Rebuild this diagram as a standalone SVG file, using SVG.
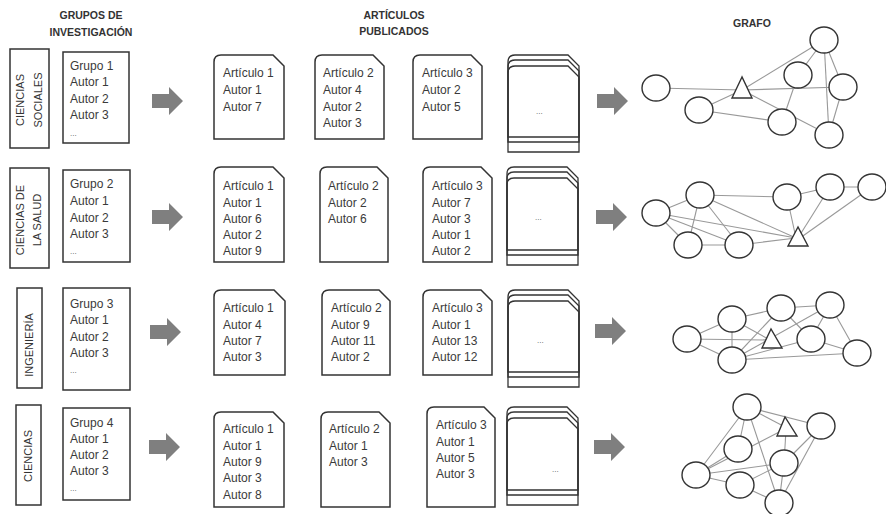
<svg xmlns="http://www.w3.org/2000/svg" xmlns:xlink="http://www.w3.org/1999/xlink" width="886" height="514" viewBox="0 0 886 514">
  <style>
    .hdr { font-family: "Liberation Sans", Arial, sans-serif; font-size: 10.5px; font-weight: bold; fill: #333; text-anchor: middle; }
    .cat { font-family: "Liberation Sans", Arial, sans-serif; font-size: 11px; fill: #333; text-anchor: middle; }
    .t { font-family: "Liberation Sans", Arial, sans-serif; font-size: 12px; fill: #3a3a3a; }
    .dots { font-family: "Liberation Sans", Arial, sans-serif; font-size: 8px; fill: #555; }
    .box { fill: #fff; stroke: #333; stroke-width: 1.5; }
    .doc { fill: #fff; stroke: #333; stroke-width: 1.5; }
    .page { fill: none; stroke: #333; stroke-width: 1.3; }
    .arrow { fill: #7f7f7f; }
    .edge { stroke: #999; stroke-width: 1.1; fill: none; }
    .nd { fill: #fff; stroke: #333; stroke-width: 1.4; }
  </style>
  <defs>
    <path id="blockArrow" d="M0 7 H17 V0 L31 14 L17 28 V21 H0 Z"/>
  </defs>
  <rect width="886" height="514" fill="#fff"/>

  <!-- column headings -->
  <g id="headings">
    <text class="hdr" x="91" y="19">GRUPOS DE</text>
    <text class="hdr" x="91" y="36">INVESTIGACIÓN</text>
    <text class="hdr" x="394" y="19">ARTÍCULOS</text>
    <text class="hdr" x="394" y="35">PUBLICADOS</text>
    <text class="hdr" x="752" y="27">GRAFO</text>
  </g>

  <!-- big process arrows and graph edges -->
  <g id="connectors">
    <use xlink:href="#blockArrow" class="arrow" x="152" y="87"/>
    <use xlink:href="#blockArrow" class="arrow" x="597" y="87"/>
    <use xlink:href="#blockArrow" class="arrow" x="152" y="203"/>
    <use xlink:href="#blockArrow" class="arrow" x="596" y="203"/>
    <use xlink:href="#blockArrow" class="arrow" x="150" y="318"/>
    <use xlink:href="#blockArrow" class="arrow" x="595" y="317"/>
    <use xlink:href="#blockArrow" class="arrow" x="149" y="433"/>
    <use xlink:href="#blockArrow" class="arrow" x="594" y="433"/>

    <!-- graph 1 -->
    <g class="edge">
      <line x1="656" y1="88" x2="742" y2="90"/>
      <line x1="699" y1="110" x2="742" y2="90"/>
      <line x1="699" y1="110" x2="782" y2="122"/>
      <line x1="742" y1="90" x2="824" y2="40"/>
      <line x1="742" y1="90" x2="843" y2="87"/>
      <line x1="742" y1="90" x2="829" y2="135"/>
      <line x1="798" y1="75" x2="824" y2="40"/>
      <line x1="798" y1="75" x2="782" y2="122"/>
      <line x1="824" y1="40" x2="843" y2="87"/>
      <line x1="824" y1="40" x2="829" y2="135"/>
      <line x1="843" y1="87" x2="829" y2="135"/>
    </g>
    <!-- graph 2 -->
    <g class="edge">
      <line x1="656" y1="213" x2="700" y2="195"/>
      <line x1="656" y1="213" x2="688" y2="245"/>
      <line x1="656" y1="213" x2="739" y2="245"/>
      <line x1="656" y1="213" x2="796" y2="238"/>
      <line x1="700" y1="195" x2="688" y2="245"/>
      <line x1="700" y1="195" x2="787" y2="197"/>
      <line x1="700" y1="195" x2="739" y2="245"/>
      <line x1="700" y1="195" x2="796" y2="238"/>
      <line x1="688" y1="245" x2="739" y2="245"/>
      <line x1="739" y1="245" x2="796" y2="238"/>
      <line x1="787" y1="197" x2="796" y2="238"/>
      <line x1="787" y1="197" x2="830" y2="187"/>
      <line x1="830" y1="187" x2="872" y2="187"/>
      <line x1="830" y1="187" x2="798" y2="238"/>
      <line x1="872" y1="187" x2="800" y2="238"/>
    </g>
    <!-- graph 3 -->
    <g class="edge">
      <line x1="687" y1="339" x2="732" y2="319"/>
      <line x1="687" y1="339" x2="732" y2="360"/>
      <line x1="687" y1="339" x2="770" y2="340"/>
      <line x1="732" y1="319" x2="732" y2="360"/>
      <line x1="732" y1="319" x2="781" y2="308"/>
      <line x1="732" y1="319" x2="770" y2="340"/>
      <line x1="732" y1="360" x2="781" y2="308"/>
      <line x1="732" y1="360" x2="830" y2="305"/>
      <line x1="732" y1="360" x2="811" y2="339"/>
      <line x1="732" y1="360" x2="857" y2="353"/>
      <line x1="781" y1="308" x2="830" y2="305"/>
      <line x1="781" y1="308" x2="811" y2="339"/>
      <line x1="830" y1="305" x2="811" y2="339"/>
      <line x1="830" y1="305" x2="857" y2="353"/>
      <line x1="811" y1="339" x2="857" y2="353"/>
    </g>
    <!-- graph 4 -->
    <g class="edge">
      <line x1="747" y1="407" x2="696" y2="475"/>
      <line x1="747" y1="407" x2="738" y2="449"/>
      <line x1="747" y1="407" x2="787" y2="428"/>
      <line x1="747" y1="407" x2="821" y2="426"/>
      <line x1="747" y1="407" x2="779" y2="503"/>
      <line x1="696" y1="475" x2="738" y2="449"/>
      <line x1="696" y1="475" x2="787" y2="428"/>
      <line x1="696" y1="475" x2="740" y2="485"/>
      <line x1="696" y1="475" x2="784" y2="463"/>
      <line x1="740" y1="485" x2="784" y2="463"/>
      <line x1="740" y1="485" x2="779" y2="503"/>
      <line x1="784" y1="463" x2="786" y2="430"/>
      <line x1="784" y1="463" x2="821" y2="426"/>
      <line x1="784" y1="463" x2="779" y2="503"/>
      <line x1="779" y1="503" x2="821" y2="426"/>
    </g>
  </g>

  <!-- ===== row 1 ===== -->
  <g id="cat-sociales">
    <rect class="box" x="10" y="49" width="39" height="99"/>
    <text class="cat" transform="translate(24,100) rotate(-90)">CIENCIAS</text>
    <text class="cat" transform="translate(42,100) rotate(-90)">SOCIALES</text>
  </g>
  <g id="grupo-1">
    <rect class="box" x="63" y="52" width="66" height="91"/>
    <text class="t" x="70" y="69.5">Grupo 1</text>
    <text class="t" x="70" y="86">Autor 1</text>
    <text class="t" x="70" y="102.5">Autor 2</text>
    <text class="t" x="70" y="118.5">Autor 3</text>
    <text class="dots" x="70" y="136">...</text>
  </g>
  <g id="r1-art1">
    <path class="doc" d="M214 139 V62 Q214 55 221 55 H273 L284 66 V139 Z"/>
    <text class="t" x="223" y="77">Artículo 1</text>
    <text class="t" x="223" y="94">Autor 1</text>
    <text class="t" x="223" y="110.5">Autor 7</text>
  </g>
  <g id="r1-art2">
    <path class="doc" d="M315 139 V62 Q315 55 322 55 H373 L384 66 V139 Z"/>
    <text class="t" x="323" y="77">Artículo 2</text>
    <text class="t" x="323" y="94">Autor 4</text>
    <text class="t" x="323" y="110.5">Autor 2</text>
    <text class="t" x="323" y="126.5">Autor 3</text>
  </g>
  <g id="r1-art3">
    <path class="doc" d="M413 139 V62 Q413 55 420 55 H471 L482 66 V139 Z"/>
    <text class="t" x="422" y="77">Artículo 3</text>
    <text class="t" x="422" y="94">Autor 2</text>
    <text class="t" x="422" y="110.5">Autor 5</text>
  </g>
  <g id="r1-more">
    <path class="page" d="M508 137 V62 Q508 55 515 55 H568 L579 66 V137 Z"/>
    <path class="page" d="M508 142 V67 Q508 60 515 60 H568 L579 71 V142 Z"/>
    <path class="page" d="M508 152 V73 Q508 66 515 66 H568 L579 77 V152 Z"/>
    <text class="dots" x="536" y="114">...</text>
  </g>
  <g id="r1-graph">
    <ellipse id="g1-a" class="nd" cx="656" cy="88" rx="14" ry="13"/>
    <ellipse id="g1-b" class="nd" cx="699" cy="110" rx="14" ry="13"/>
    <ellipse id="g1-c" class="nd" cx="798" cy="75" rx="14" ry="13"/>
    <ellipse id="g1-d" class="nd" cx="824" cy="40" rx="14" ry="13"/>
    <ellipse id="g1-e" class="nd" cx="843" cy="87" rx="14" ry="13"/>
    <ellipse id="g1-f" class="nd" cx="782" cy="122" rx="14" ry="13"/>
    <ellipse id="g1-g" class="nd" cx="829" cy="135" rx="14" ry="13"/>
    <polygon id="g1-t" class="nd" points="742,77 732,98 752,98"/>
  </g>

  <!-- ===== row 2 ===== -->
  <g id="cat-salud">
    <rect class="box" x="10" y="168" width="39" height="100"/>
    <text class="cat" transform="translate(24,220) rotate(-90)">CIENCIAS DE</text>
    <text class="cat" transform="translate(41,220) rotate(-90)">LA SALUD</text>
  </g>
  <g id="grupo-2">
    <rect class="box" x="63" y="170" width="67" height="92"/>
    <text class="t" x="70" y="187.5">Grupo 2</text>
    <text class="t" x="70" y="205">Autor 1</text>
    <text class="t" x="70" y="222">Autor 2</text>
    <text class="t" x="70" y="237.5">Autor 3</text>
    <text class="dots" x="70" y="254">...</text>
  </g>
  <g id="r2-art1">
    <path class="doc" d="M214 262 V174 Q214 167 221 167 H273 L284 178 V262 Z"/>
    <text class="t" x="223" y="190">Artículo 1</text>
    <text class="t" x="223" y="207">Autor 1</text>
    <text class="t" x="223" y="223">Autor 6</text>
    <text class="t" x="223" y="239">Autor 2</text>
    <text class="t" x="223" y="254.5">Autor 9</text>
  </g>
  <g id="r2-art2">
    <path class="doc" d="M320 262 V174 Q320 167 327 167 H377 L388 178 V262 Z"/>
    <text class="t" x="328" y="190">Artículo 2</text>
    <text class="t" x="328" y="207">Autor 2</text>
    <text class="t" x="328" y="223">Autor 6</text>
  </g>
  <g id="r2-art3">
    <path class="doc" d="M423 262 V174 Q423 167 430 167 H481 L492 178 V262 Z"/>
    <text class="t" x="432" y="190">Artículo 3</text>
    <text class="t" x="432" y="207">Autor 7</text>
    <text class="t" x="432" y="223">Autor 3</text>
    <text class="t" x="432" y="239">Autor 1</text>
    <text class="t" x="432" y="254.5">Autor 2</text>
  </g>
  <g id="r2-more">
    <path class="page" d="M507 250 V174 Q507 167 514 167 H567 L578 178 V250 Z"/>
    <path class="page" d="M507 255 V179 Q507 172 514 172 H567 L578 183 V255 Z"/>
    <path class="page" d="M507 265 V185 Q507 178 514 178 H567 L578 189 V265 Z"/>
    <text class="dots" x="535" y="220">...</text>
  </g>
  <g id="r2-graph">
    <ellipse id="g2-a" class="nd" cx="656" cy="213" rx="14" ry="13"/>
    <ellipse id="g2-b" class="nd" cx="700" cy="195" rx="14" ry="13"/>
    <ellipse id="g2-c" class="nd" cx="688" cy="245" rx="14" ry="13"/>
    <ellipse id="g2-d" class="nd" cx="739" cy="245" rx="14" ry="13"/>
    <ellipse id="g2-e" class="nd" cx="787" cy="197" rx="14" ry="13"/>
    <ellipse id="g2-f" class="nd" cx="830" cy="187" rx="14" ry="13"/>
    <ellipse id="g2-g" class="nd" cx="872" cy="187" rx="14" ry="13"/>
    <polygon id="g2-t" class="nd" points="798,227 788,246 808,246"/>
  </g>

  <!-- ===== row 3 ===== -->
  <g id="cat-ingenieria">
    <rect class="box" x="17" y="288" width="25" height="100"/>
    <text class="cat" transform="translate(33,345) rotate(-90)">INGENIERÍA</text>
  </g>
  <g id="grupo-3">
    <rect class="box" x="63" y="288" width="67" height="102"/>
    <text class="t" x="70" y="307.5">Grupo 3</text>
    <text class="t" x="70" y="324">Autor 1</text>
    <text class="t" x="70" y="341">Autor 2</text>
    <text class="t" x="70" y="356.5">Autor 3</text>
    <text class="dots" x="70" y="373">...</text>
  </g>
  <g id="r3-art1">
    <path class="doc" d="M214 375 V297 Q214 290 221 290 H274 L285 301 V375 Z"/>
    <text class="t" x="223" y="312">Artículo 1</text>
    <text class="t" x="223" y="328.5">Autor 4</text>
    <text class="t" x="223" y="345">Autor 7</text>
    <text class="t" x="223" y="361">Autor 3</text>
  </g>
  <g id="r3-art2">
    <path class="doc" d="M322 375 V297 Q322 290 329 290 H379 L390 301 V375 Z"/>
    <text class="t" x="331" y="312">Artículo 2</text>
    <text class="t" x="331" y="328.5">Autor 9</text>
    <text class="t" x="331" y="345">Autor 11</text>
    <text class="t" x="331" y="361">Autor 2</text>
  </g>
  <g id="r3-art3">
    <path class="doc" d="M423 375 V297 Q423 290 430 290 H481 L492 301 V375 Z"/>
    <text class="t" x="432" y="312">Artículo 3</text>
    <text class="t" x="432" y="328.5">Autor 1</text>
    <text class="t" x="432" y="345">Autor 13</text>
    <text class="t" x="432" y="361">Autor 12</text>
  </g>
  <g id="r3-more">
    <path class="page" d="M508 372 V297 Q508 290 515 290 H568 L579 301 V372 Z"/>
    <path class="page" d="M508 377 V302 Q508 295 515 295 H568 L579 306 V377 Z"/>
    <path class="page" d="M508 387 V308 Q508 301 515 301 H568 L579 312 V387 Z"/>
    <text class="dots" x="537" y="343">...</text>
  </g>
  <g id="r3-graph">
    <ellipse id="g3-a" class="nd" cx="687" cy="339" rx="14" ry="13"/>
    <ellipse id="g3-b" class="nd" cx="732" cy="319" rx="14" ry="13"/>
    <ellipse id="g3-c" class="nd" cx="732" cy="360" rx="14" ry="13"/>
    <ellipse id="g3-d" class="nd" cx="781" cy="308" rx="14" ry="13"/>
    <ellipse id="g3-e" class="nd" cx="830" cy="305" rx="14" ry="13"/>
    <ellipse id="g3-f" class="nd" cx="811" cy="339" rx="14" ry="13"/>
    <ellipse id="g3-g" class="nd" cx="857" cy="353" rx="14" ry="13"/>
    <polygon id="g3-t" class="nd" points="771,329 762,348 782,348"/>
  </g>

  <!-- ===== row 4 ===== -->
  <g id="cat-ciencias">
    <rect class="box" x="16" y="405" width="25" height="100"/>
    <text class="cat" transform="translate(32,456) rotate(-90)">CIENCIAS</text>
  </g>
  <g id="grupo-4">
    <rect class="box" x="63" y="408" width="67" height="92"/>
    <text class="t" x="70" y="426.5">Grupo 4</text>
    <text class="t" x="70" y="442.5">Autor 1</text>
    <text class="t" x="70" y="459">Autor 2</text>
    <text class="t" x="70" y="475">Autor 3</text>
    <text class="dots" x="70" y="491">...</text>
  </g>
  <g id="r4-art1">
    <path class="doc" d="M214 507 V419 Q214 412 221 412 H273 L284 423 V507 Z"/>
    <text class="t" x="223" y="433">Artículo 1</text>
    <text class="t" x="223" y="450">Autor 1</text>
    <text class="t" x="223" y="466">Autor 9</text>
    <text class="t" x="223" y="482">Autor 3</text>
    <text class="t" x="223" y="499">Autor 8</text>
  </g>
  <g id="r4-art2">
    <path class="doc" d="M321 507 V419 Q321 412 328 412 H379 L390 423 V507 Z"/>
    <text class="t" x="329" y="433">Artículo 2</text>
    <text class="t" x="329" y="450">Autor 1</text>
    <text class="t" x="329" y="466">Autor 3</text>
  </g>
  <g id="r4-art3">
    <path class="doc" d="M427 507 V414 Q427 407 434 407 H484 L495 418 V507 Z"/>
    <text class="t" x="436" y="429">Artículo 3</text>
    <text class="t" x="436" y="446">Autor 1</text>
    <text class="t" x="436" y="462">Autor 5</text>
    <text class="t" x="436" y="478">Autor 3</text>
  </g>
  <g id="r4-more">
    <path class="page" d="M507 490 V414 Q507 407 514 407 H567 L578 418 V490 Z"/>
    <path class="page" d="M507 495 V419 Q507 412 514 412 H567 L578 423 V495 Z"/>
    <path class="page" d="M507 505 V425 Q507 418 514 418 H567 L578 429 V505 Z"/>
    <text class="dots" x="552" y="472">...</text>
  </g>
  <g id="r4-graph">
    <ellipse id="g4-a" class="nd" cx="747" cy="407" rx="14" ry="13"/>
    <ellipse id="g4-b" class="nd" cx="738" cy="449" rx="14" ry="13"/>
    <ellipse id="g4-c" class="nd" cx="696" cy="475" rx="14" ry="13"/>
    <ellipse id="g4-d" class="nd" cx="740" cy="485" rx="14" ry="13"/>
    <ellipse id="g4-e" class="nd" cx="784" cy="463" rx="14" ry="13"/>
    <ellipse id="g4-f" class="nd" cx="779" cy="503" rx="14" ry="13"/>
    <ellipse id="g4-g" class="nd" cx="821" cy="426" rx="14" ry="13"/>
    <polygon id="g4-t" class="nd" points="785,417 777,436 797,436"/>
  </g>
</svg>
